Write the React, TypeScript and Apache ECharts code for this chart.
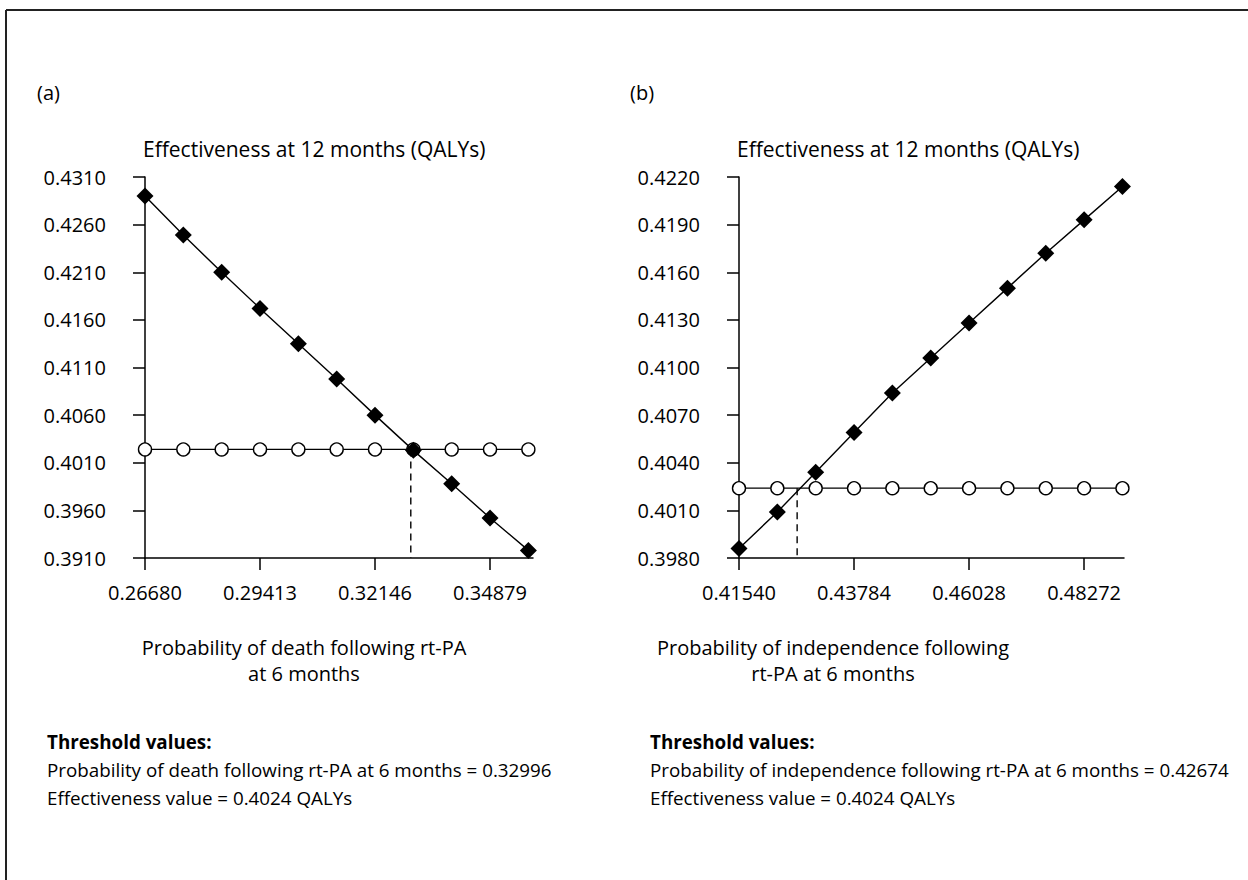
import React, { useEffect, useRef } from "react";
import * as echarts from "echarts";

// ---- Data ----
const xA = [0.2668, 0.27591, 0.28502, 0.29413, 0.30324, 0.31235, 0.32146, 0.33057, 0.33968, 0.34879, 0.3579];
const rtpaA = [0.429, 0.4249, 0.421, 0.4172, 0.4135, 0.4098, 0.406, 0.4023, 0.3988, 0.3952, 0.3918];
const refA = [0.4024, 0.4024, 0.4024, 0.4024, 0.4024, 0.4024, 0.4024, 0.4024, 0.4024, 0.4024, 0.4024];
const xTicksA = [0.2668, 0.29413, 0.32146, 0.34879];
const yTicksA = [0.391, 0.396, 0.401, 0.406, 0.411, 0.416, 0.421, 0.426, 0.431];
const thresholdXA = 0.32996;

const xB = [0.4154, 0.42288, 0.43036, 0.43784, 0.44532, 0.4528, 0.46028, 0.46776, 0.47524, 0.48272, 0.4902];
const rtpaB = [0.3986, 0.4009, 0.4034, 0.4059, 0.4084, 0.4106, 0.4128, 0.415, 0.4172, 0.4193, 0.4214];
const refB = [0.4024, 0.4024, 0.4024, 0.4024, 0.4024, 0.4024, 0.4024, 0.4024, 0.4024, 0.4024, 0.4024];
const xTicksB = [0.4154, 0.43784, 0.46028, 0.48272];
const yTicksB = [0.398, 0.401, 0.404, 0.407, 0.41, 0.413, 0.416, 0.419, 0.422];
const thresholdXB = 0.42674;
const thresholdY = 0.4024;

const FONT = "'Open Sans', Lato, sans-serif";

function zip(xs: number[], ys: number[]) {
  return xs.map((x, i) => [x, ys[i]]);
}

function xAxisCfg(gridIndex: number, min: number, max: number, ticks: number[]) {
  return {
    type: "value",
    gridIndex,
    min,
    max,
    axisLine: { show: true, onZero: false, lineStyle: { color: "#000", width: 1.5 } },
    axisTick: { show: true, length: 12, customValues: ticks, lineStyle: { color: "#000", width: 1.5 } },
    axisLabel: {
      customValues: ticks,
      formatter: (v: number) => v.toFixed(5),
      color: "#000",
      fontSize: 20,
      fontFamily: FONT,
      margin: 24,
    },
    splitLine: { show: false },
  };
}

function yAxisCfg(gridIndex: number, min: number, max: number, ticks: number[]) {
  return {
    type: "value",
    gridIndex,
    min,
    max,
    axisLine: { show: true, onZero: false, lineStyle: { color: "#000", width: 1.5 } },
    axisTick: { show: true, length: 12, customValues: ticks, lineStyle: { color: "#000", width: 1.5 } },
    axisLabel: {
      customValues: ticks,
      formatter: (v: number) => v.toFixed(4),
      color: "#000",
      fontSize: 20,
      fontFamily: FONT,
      margin: 39,
    },
    splitLine: { show: false },
  };
}

function txt(text: string, x: number, y: number, size: number, align = "left", weight = "normal") {
  return {
    type: "text",
    x,
    y,
    silent: true,
    style: {
      text,
      fill: "#000",
      font: `${weight} ${size}px ${FONT}`,
      textAlign: align,
      textVerticalAlign: "middle",
      align,
      verticalAlign: "middle",
    },
  };
}

export default function App() {
  const ref = useRef<HTMLDivElement>(null);
  useEffect(() => {
    document.body.style.margin = "0";
    const chart = echarts.init(ref.current!, undefined, { renderer: "svg" });
    const lineStyle = { color: "#000", width: 1.4 };
    const circleSeries = (xi: number, xs: number[], ys: number[]) => ({
      type: "line",
      xAxisIndex: xi,
      yAxisIndex: xi,
      data: zip(xs, ys),
      symbol: "circle",
      symbolSize: 13,
      showSymbol: true,
      lineStyle,
      itemStyle: { color: "#fff", borderColor: "#000", borderWidth: 1.4 },
      z: 2,
    });
    const diamondSeries = (xi: number, xs: number[], ys: number[]) => ({
      type: "line",
      xAxisIndex: xi,
      yAxisIndex: xi,
      data: zip(xs, ys),
      symbol: "diamond",
      symbolSize: 17,
      showSymbol: true,
      lineStyle,
      itemStyle: { color: "#000", borderColor: "#000", borderWidth: 0 },
      z: 3,
    });
    const dashSeries = (xi: number, tx: number, ymin: number) => ({
      type: "line",
      xAxisIndex: xi,
      yAxisIndex: xi,
      data: [
        [tx, thresholdY],
        [tx, ymin],
      ],
      symbol: "none",
      lineStyle: { color: "#000", width: 1.4, type: [7, 5] },
      z: 1,
    });

    chart.setOption({
      animation: false,
      backgroundColor: "#fff",
      grid: [
        { left: 145, top: 177, width: 388, height: 381 },
        { left: 739, top: 177, width: 385, height: 381 },
      ],
      xAxis: [xAxisCfg(0, 0.2668, 0.359, xTicksA), xAxisCfg(1, 0.4154, 0.4905, xTicksB)],
      yAxis: [yAxisCfg(0, 0.391, 0.431, yTicksA), yAxisCfg(1, 0.398, 0.422, yTicksB)],
      series: [
        dashSeries(0, thresholdXA, 0.391),
        circleSeries(0, xA, refA),
        diamondSeries(0, xA, rtpaA),
        dashSeries(1, thresholdXB, 0.398),
        circleSeries(1, xB, refB),
        diamondSeries(1, xB, rtpaB),
      ],
      graphic: [
        { type: "line", silent: true, shape: { x1: 6, y1: 10, x2: 1248, y2: 10 }, style: { stroke: "#222", lineWidth: 2 } },
        { type: "line", silent: true, shape: { x1: 6, y1: 10, x2: 6, y2: 880 }, style: { stroke: "#222", lineWidth: 2 } },
        txt("(a)", 37, 92, 20),
        txt("(b)", 630, 92, 20),
        txt("Effectiveness at 12 months (QALYs)", 143, 149, 21),
        txt("Effectiveness at 12 months (QALYs)", 737, 149, 21),
        txt("Probability of death following rt-PA", 304, 647, 20, "center"),
        txt("at 6 months", 304, 673, 20, "center"),
        txt("Probability of independence following", 833, 647, 20, "center"),
        txt("rt-PA at 6 months", 833, 673, 20, "center"),
        txt("Threshold values:", 47, 742, 18.8, "left", "bold"),
        txt("Probability of death following rt-PA at 6 months = 0.32996", 47, 770, 18.8),
        txt("Effectiveness value = 0.4024 QALYs", 47, 798, 18.8),
        txt("Threshold values:", 650, 742, 18.8, "left", "bold"),
        txt("Probability of independence following rt-PA at 6 months = 0.42674", 650, 770, 18.8),
        txt("Effectiveness value = 0.4024 QALYs", 650, 798, 18.8),
      ],
    });
    return () => chart.dispose();
  }, []);
  return <div ref={ref} style={{ width: 1248, height: 880 }} />;
}
